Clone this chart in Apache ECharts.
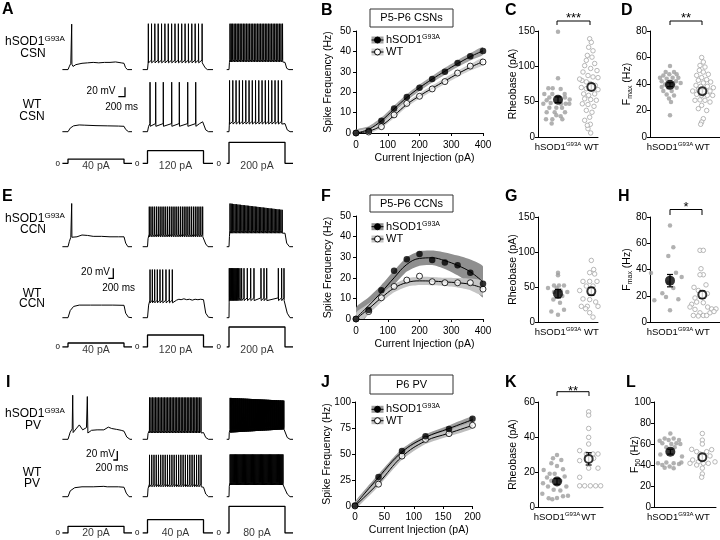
<!DOCTYPE html>
<html><head><meta charset="utf-8">
<script src="https://cdn.jsdelivr.net/npm/echarts@6/dist/echarts.min.js"></script>
<style>html,body{margin:0;padding:0;background:#fff}#c{width:720px;height:540px}</style>
</head><body><div id="c"></div>
<script>
const FONT = "'Liberation Sans', Arial, Helvetica, sans-serif";

// ---------- F-I curve data ----------
const fiX_CSN = [0,40,80,120,160,200,240,280,320,360,400];
const csnHsodPts = [0,1.1,6,12,17.7,22.2,26.5,30,34.3,37.6,40.2];
const csnWtPts   = [0,0.5,3.1,8.9,14.5,18,21.6,25.2,29.4,32.8,34.8];
const csnHsodFit = [0,1.8,6,11.8,17.4,22.2,26.4,30.3,34,37.4,40.3];
const csnWtFit   = [0,0.9,3.6,8.6,14,18.2,21.9,25.5,29,32.2,35];
const csnHsodLo  = [-1.2,0.3,4.4,10.2,15.8,20.6,24.8,28.6,32.3,35.6,38.4];
const csnHsodHi  = [1.6,3.3,7.6,13.4,19,23.8,28,32,35.7,39.2,42.2];
const csnWtLo    = [-1,-0.4,2.4,7.3,12.7,16.9,20.5,24,27.5,30.6,33.2];
const csnWtHi    = [1,2.2,4.8,9.9,15.3,19.5,23.3,27,30.5,33.8,36.8];

const fiX_CCN = [0,40,80,120,160,200,240,280,320,360,400];
const ccnHsodPts = [0,4.4,14,23.4,29,31.6,28.7,27.4,26.1,22.4,17.1];
const ccnWtPts   = [0,3.6,10.3,15.8,18.9,20.8,18.1,17.6,17.6,17.6,14.5];
const ccnHsodFit = [0.5,6.5,13,20,26.5,29.4,29.7,28.3,26,22.9,18];
const ccnWtFit   = [0,5,10.3,15,17.7,18.5,18.4,18,17.6,16.8,15];
const ccnHsodLo  = [-4.5,2.5,9.5,16.5,23,25.9,26.2,24.3,21.2,16.9,10.5];
const ccnHsodHi  = [5.5,10.5,16.5,23.5,30,32.9,33.2,32.3,30.8,28.9,25.5];
const ccnWtLo    = [-3,2.5,8.3,13,15.7,16.5,16.4,16,15.3,14,11.5];
const ccnWtHi    = [3,7.5,12.3,17,19.7,20.5,20.4,20,19.9,19.6,18.5];

const fiX_PV = [0,40,80,120,160,200];
const pvHsodPts = [0.6,28,53,67,74,84];
const pvWtPts   = [0,21,48,64,69.6,77.6];
const pvHsodFit = [1,27.5,52,66,74.5,83];
const pvWtFit   = [0,22,47.5,62.5,70,77.5];
const pvHsodLo  = [-2,24.5,49,63,71.5,80];
const pvHsodHi  = [4,30.5,55,69,77.5,86];
const pvWtLo    = [-3,19,44.5,59.5,67,74.5];
const pvWtHi    = [3,25,50.5,65.5,73,80.5];

// ---------- dot plot data (values, jitter in category units) ----------
const cHsodVals = [149,83,69,69,68,61,61,61,56,56,52,53,47,48,47,47,47,41.5,41.5,41.5,35,35,35,30.7,29.5,25,25,25,19];
const cHsodJit  = [0,0,-0.29,-0.16,0.08,-0.41,-0.17,0.2,-0.26,0.21,-0.34,0.35,-0.44,-0.22,0.09,0.23,0.34,-0.26,-0.05,0.12,-0.34,-0.1,0.21,-0.05,0.08,-0.36,-0.17,0.13,-0.19];
const cWtVals = [139,134,127,122,115.5,113,108.5,104,101,97,94,92,87,85,84,80,78,75.5,73,73,70,68.4,67,71,61,59,61,60,54,53,52,47,46,43.4,37.7,35,28,23.6,18,11.8,5.7,16.5,90,65,82,50];
const cWtJit  = [-0.05,0,-0.08,0.05,-0.12,0.02,-0.15,0.1,-0.2,-0.02,0.17,-0.25,-0.1,0.05,0.2,-0.28,-0.15,-0.03,0.12,0.3,-0.3,-0.15,0.2,0.35,-0.23,-0.08,0.1,0.25,-0.2,-0.02,0.15,-0.27,-0.1,0.08,-0.15,0.02,-0.05,-0.2,-0.03,-0.1,-0.02,-0.12,0.3,0.35,-0.35,0.3];
const cMeans = [52.8, 70.8], cSem = [4, 4.5];

const dHsodVals = [53.6,49,49,46.5,47.3,47.3,44.8,44,44.8,44.8,42,41.5,42,39.7,39.7,37.2,37.2,34.7,34.7,32,31.4,29,26.4,16.4,37.7,40.7];
const dHsodJit  = [0,-0.13,0.12,-0.2,-0.02,0.2,-0.3,-0.1,0.08,0.25,-0.25,0,0.18,-0.15,0.1,-0.05,0.2,-0.2,0.05,-0.1,0.12,-0.03,0.03,0,-0.25,0.32];
const dWtVals = [60,56.6,54,52.8,50.3,49,47.3,46.5,44.8,43.3,42.8,41.5,40.8,39,38.2,38.2,37.2,35.7,35.7,34.7,34.7,32.2,31.4,31.4,31.4,28,27.7,27.7,26.4,23.9,21.4,13.8,11.3,9.6,20];
const dWtJit  = [-0.02,0.03,-0.07,0.08,-0.09,0.03,0.18,-0.17,-0.02,0.13,-0.12,0.25,0.03,-0.19,-0.05,0.15,0.33,-0.12,0.08,0.23,-0.29,-0.17,-0.02,0.15,0.31,-0.07,0.08,-0.22,0.23,-0.02,-0.12,0.03,-0.02,-0.05,0.13];
const dMeans = [39.5, 34.5], dSem = [1.5, 1.8];

const gHsodVals = [70.5,66.7,52,52,52,48.6,48.6,43,45,43,37,32,27.6,17.6,15,10.5];
const gHsodJit  = [0,0,-0.12,0.03,0.18,-0.3,-0.04,0.28,0.08,-0.12,0.13,-0.14,0.06,0.18,-0.2,0];
const gWtVals = [88,75,70.5,68.6,58,58,58,51.4,51.4,45,39,33,32,28.6,22.4,22.4,22.4,13.3,7,19];
const gWtJit  = [0,0.07,-0.05,0.1,-0.25,-0.05,0.17,-0.15,0.05,-0.35,0.3,-0.25,-0.05,0.13,-0.3,-0.12,0.2,-0.05,0.05,-0.17];
const gMeans = [40.5, 43.8], gSem = [6, 5.5];

const hHsodVals = [73.6,57,50.3,37.3,37.6,34.3,30,25.9,17.3,16.5,19,8.9,22];
const hHsodJit  = [0,0.1,-0.05,-0.57,0.18,0.35,-0.05,0.1,0.25,-0.47,-0.12,0,-0.23];
const hWtVals = [54.6,54.6,40.6,36,36,26.4,24,28.3,21.6,18.3,15.2,13.5,11.4,9.6,7,5,5,7,10,10,8,5,4.6,11.4,14.7];
const hWtJit  = [-0.07,0.03,-0.04,0.03,-0.07,-0.25,-0.12,0.11,0.15,-0.22,-0.17,-0.32,-0.37,-0.22,-0.07,0.03,0.13,0.23,0.28,0.41,0.35,-0.27,-0.12,0.16,0.03];
const hMeans = [31.5, 20.8], hSem = [4.7, 2.8];

const kHsodVals = [29.7,27.8,26.9,25,21.2,23.5,21.6,19,19,17.4,16.9,15,15,13.6,11.7,11.7,9.8,9.5,7.6,5.1,4.5,5,6.1,6.4];
const kHsodJit  = [0,-0.12,0.13,-0.17,-0.4,0,0.18,-0.22,-0.07,0.23,-0.3,-0.17,0.1,-0.42,-0.27,0.28,-0.1,0.1,-0.44,0,-0.14,-0.25,0.18,0.33];
const kWtVals = [54.4,52.5,44.9,39.8,36,32.2,30.3,30.3,30.3,26.5,22.2,22.2,17,12.1,12.1,12.1,12.1,12.1,27.8];
const kWtJit  = [0,0,0,0,0,-0.27,-0.07,0.13,0.28,-0.27,0.28,0,-0.27,-0.27,-0.12,0.05,0.21,0.36,0.15];
const kMeans = [14.6, 27.5], kSem = [1.6, 3.5];

const lHsodVals = [70,65.3,65.3,63,63.7,63.7,60.6,60.6,60,60,56.8,56.8,41.6,40,42.3,41.6,41,42.3,38.5,37,37.5,50,48];
const lHsodJit  = [0,-0.17,0.1,-0.32,-0.05,0.26,-0.24,0.18,0.03,0.3,-0.12,0.13,-0.37,-0.24,-0.12,0.1,0.26,0.33,-0.02,0.1,-0.17,-0.3,0.35];
const lWtVals = [70,63.7,60,54.9,52.7,52.7,54.6,50.5,48.6,44.8,43,41.6,41.6,43,41.6,40,37,31.5,28.4];
const lWtJit  = [0,0,0,-0.32,-0.17,0.13,0.28,-0.07,0.23,-0.29,-0.12,0.03,0.18,0.38,-0.37,-0.17,0,0,-0.02];
const lMeans = [52.7, 47.3], lSem = [2.3, 2.8];

// ---------- example traces (time ms, membrane potential mV) ----------
const stepsCSN = [40,120,200];
const stepsCCN = [40,120,200];
const stepsPV  = [20,40,80];
const traceStart = [-100,-86,-41];
const traceEnd = [1143,1170,1143];

const A_h1 = {pts:[[-100,-68],[0,-68],[20,-62],[50,-54],[62,-50],[66,33],[70,-56],[90,-61],[140,-57],[250,-54],[350,-53],[450,-52],[550,-53],[650,-52],[750,-52],[850,-51],[950,-53],[1000,-54],[1025,-63],[1060,-68],[1143,-68]]};
const A_h2 = {pre:[[-86,-68],[0,-68],[10,-55]], spikes:[15,72,131,191,251,311,371,431,491,551,611,671,731,791,851,911,975], trough:-53, peak:34, post:[[990,-50],[1000,-52],[1030,-64],[1070,-68],[1170,-68]]};
const A_h3 = {pre:[[-41,-68],[0,-68],[8,-52]], spikes:[18,40,65,92,119,146,173,200,228,256,284,312,340,368,396,424,452,480,508,536,564,592,620,648,676,704,732,760,788,816,844,872,900,928,956], trough:-51, peak:34, post:[[975,-50],[1000,-52],[1030,-65],[1070,-68],[1143,-68]]};
const A_w1 = {pts:[[-100,-68],[0,-68],[40,-60],[100,-55],[200,-53],[300,-53.5],[500,-54.5],[700,-55],[900,-55.5],[1000,-56],[1030,-63],[1080,-68],[1143,-68]]};
const A_w2 = {pre:[[-86,-68],[0,-68],[20,-56]], spikes:[45,146,282,432,568,718,861], trough:-56, peak:42, post:[[930,-50],[985,-46],[1000,-50],[1040,-64],[1090,-68],[1170,-68]]};
const A_w3 = {pre:[[-41,-68],[0,-68],[5,-55]], spikes:[10,68,126,184,242,300,358,416,474,532,590,648,706,764,822,880,940], trough:-51, peak:46, post:[[970,-48],[1000,-50],[1040,-64],[1090,-68],[1143,-68]]};

const E_h1 = {pts:[[-100,-68],[0,-68],[25,-56],[50,-47],[62,-44],[66,28],[70,-47],[100,-50],[160,-46],[250,-42],[350,-43],[450,-45],[600,-45],[750,-46],[900,-46],[1000,-46],[1030,-60],[1070,-68],[1143,-68]]};
const E_h2 = {pre:[[-86,-68],[0,-68],[10,-50]], spikes:[32,62,94,127,160,193,226,259,292,325,358,391,424,457,490,523,556,589,622,655,688,721,754,787,820,853,886,919,952,985], trough:-46, peak:21, post:[[995,-42],[1005,-46],[1040,-62],[1080,-68],[1170,-68]]};
const E_h3 = {pre:[[-41,-68],[0,-68],[8,-45]], spikes:[18,40,63,86,110,134,158,182,206,230,254,278,302,326,350,374,398,422,446,470,494,518,542,566,590,614,638,662,686,710,734,758,782,806,830,854,878,902,926,950], trough:-38, peak:[28,14], post:[[965,-36],[1000,-38],[1030,-60],[1080,-68],[1143,-68]]};
const E_w1 = {pts:[[-100,-68],[0,-68],[40,-52],[100,-43],[200,-40],[400,-40],[600,-40],[800,-40],[1000,-40.5],[1030,-58],[1080,-67],[1143,-68]]};
const E_w2 = {pre:[[-86,-68],[0,-68],[20,-40]], spikes:[45,86,128,175,223,271,330,389,443], trough:-35, peak:39, post:[[470,-32],[520,-29],[560,-27],[600,-28],[650,-26],[700,-28],[750,-27],[800,-29],[850,-27],[900,-28],[950,-27],[1000,-28],[1040,-58],[1090,-67],[1170,-68]]};
const E_w3 = {pre:[[-41,-68],[0,-68],[3,-35]], spikes:[5,18,32,46,61,77,94,112,131,151,172,196,226,268,327,387,446,571,625,673,881,940,982], trough:-30, peak:42, post:[[995,-28],[1010,-30],[1040,-58],[1090,-68],[1143,-68]]};

const I_h1 = {pts:[[-100,-68],[0,-68],[6,-66],[40,-52],[75,-45],[84,30],[92,-53],[143,-45],[202,-36],[262,-47],[330,-42],[345,27],[355,-54],[420,-48],[520,-47],[640,-47],[720,-41],[780,-44],[869,-46],[950,-48],[1000,-50],[1050,-63],[1107,-68],[1143,-68]]};
const I_h2 = {pre:[[-86,-68],[0,-68],[10,-55]], spikes:[36,62,89,116,143,170,197,224,251,278,305,332,359,386,413,440,467,494,521,548,575,602,629,656,683,710,737,764,791,818,845,872,899,926,955], trough:-54, peak:25, post:[[980,-50],[1000,-53],[1040,-64],[1090,-68],[1170,-68]]};
const I_h3 = {pre:[[-41,-68],[0,-68],[5,-53]], spikes:[20,32,44,56,68,80,92,104,116,128,140,152,164,176,188,200,212,224,236,248,260,272,284,296,308,320,332,344,356,368,380,392,404,416,428,440,452,464,476,488,500,512,524,536,548,560,572,584,596,608,620,632,644,656,668,680,692,704,716,728,740,752,764,776,788,800,812,824,836,848,860,872,884,896,908,920,932,944,956,968,980], trough:[-53,-46], peak:[24,18], post:[[990,-46],[1000,-48],[1040,-64],[1090,-68],[1143,-68]]};
const I_w1 = {pts:[[-100,-68],[0,-68],[40,-55],[120,-48],[250,-46],[450,-46],[640,-45],[660,-43],[700,-46],[900,-46],[1000,-47],[1040,-60],[1090,-68],[1143,-68]]};
const I_w2 = {pre:[[-86,-68],[0,-68],[10,-50]], spikes:[36,76,116,156,196,236,276,316,356,396,436,476,516,556,596,636,676,716,756,796,836,876,916,956], trough:-46, peak:25, post:[[975,-44],[1000,-47],[1040,-62],[1090,-68],[1170,-68]]};
const I_w3 = {pre:[[-41,-68],[0,-68],[5,-45]], spikes:[20,36,52,68,84,100,116,132,148,164,180,196,212,228,244,260,276,292,308,324,340,356,372,388,404,420,436,452,468,484,500,516,532,548,564,580,596,612,628,644,660,676,692,708,724,740,756,772,788,804,820,836,852,868,884,900,916,932,948,964], trough:-42, peak:26, post:[[985,-42],[1000,-45],[1040,-62],[1090,-68],[1143,-68]]};

// ---------- builders ----------
const grids = [], xAxes = [], yAxes = [], series = [], graphics = [];
function addGrid(g, xa, ya) {
  grids.push(Object.assign({containLabel:false}, g));
  const i = grids.length - 1;
  xAxes.push(Object.assign({gridIndex:i}, xa));
  yAxes.push(Object.assign({gridIndex:i}, ya));
  return i;
}
function trainPts(times, trough, peak) {
  const n = times.length, out = [];
  const lv = (v, i) => Array.isArray(v) ? v[0] + (v[1]-v[0]) * (n > 1 ? i/(n-1) : 0) : v;
  times.forEach((t, i) => {
    const tr = lv(trough, i), pk = lv(peak, i);
    out.push([t-2, tr+6], [t, pk], [t+3, tr]);
  });
  return out;
}
function tracePts(tr) { return tr.pts ? tr.pts : tr.pre.concat(trainPts(tr.spikes, tr.trough, tr.peak), tr.post); }

const colOnset = [68, 147.5, 229];
const PXMS = 0.056, TMIN = -110, TMAX = 1200, PXMV = 0.45, VMIN = -80, VMAX = 50;
function tracePanel(vTops, rows, steps, curBase, curMax, curPx, labelDy) {
  for (let c = 0; c < 3; c++) {
    const left = colOnset[c] + TMIN * PXMS, width = (TMAX - TMIN) * PXMS;
    rows.forEach((row, r) => {
      const gi = addGrid({left, top:vTops[r], width, height:(VMAX-VMIN)*PXMV},
        {type:'value', min:TMIN, max:TMAX, show:false},
        {type:'value', min:VMIN, max:VMAX, show:false});
      series.push({type:'line', xAxisIndex:gi, yAxisIndex:gi, data:tracePts(row[c]), symbol:'none', silent:true,
        lineStyle:{color:'#000', width:1}, animation:false});
    });
    const h = curMax * curPx;
    const gi = addGrid({left, top:curBase - h, width, height:h},
      {type:'value', min:TMIN, max:TMAX, show:false},
      {type:'value', min:0, max:curMax, show:true, axisLine:{show:false}, axisTick:{show:false}, splitLine:{show:false},
       axisLabel:{customValues:[0], fontSize:8, margin:2, color:'#000', fontFamily:FONT}});
    const I = steps[c];
    series.push({type:'line', xAxisIndex:gi, yAxisIndex:gi, symbol:'none', silent:true, animation:false,
      data:[[traceStart[c],0],[0,0],[0,I],[1000,I],[1000,0],[traceEnd[c],0]],
      lineStyle:{color:'#000', width:1.3}});
    series.push({type:'scatter', xAxisIndex:gi, yAxisIndex:gi, data:[[500,0]], symbolSize:0, silent:true, animation:false,
      label:{show:true, position:'inside', offset:[0,labelDy], formatter:I + ' pA', fontSize:10.5, color:'#000', fontFamily:FONT}});
  }
}
tracePanel([16.5, 78.6], [[A_h1,A_h2,A_h3],[A_w1,A_w2,A_w3]], stepsCSN, 163.3, 300, 0.105, 2.5);
tracePanel([193.6, 264.6], [[E_h1,E_h2,E_h3],[E_w1,E_w2,E_w3]], stepsCCN, 347, 300, 0.1, 3);
tracePanel([386.2, 443.6], [[I_h1,I_h2,I_h3],[I_w1,I_w2,I_w3]], stepsPV, 533, 90, 0.333, 0.5);

const AX = {lineStyle:{color:'#000', width:1}};
function fiPlot(box, xs, xmax, xint, ymax, yint, xOff, yOff, nameGapY, d) {
  const gi = addGrid(box,
    {type:'value', min:0, max:xmax, interval:xint, offset:xOff, axisLine:AX, axisTick:{length:3, lineStyle:{color:'#000'}},
     axisLabel:{fontSize:10, margin:3, color:'#000', fontFamily:FONT}, splitLine:{show:false},
     name:'Current Injection (pA)', nameLocation:'middle', nameGap:16, nameMoveOverlap:false,
     nameTextStyle:{fontSize:10.5, color:'#000', fontFamily:FONT, padding:[0,0,0,10]}},
    {type:'value', min:0, max:ymax, interval:yint, offset:yOff, axisLine:AX, axisTick:{length:3, lineStyle:{color:'#000'}},
     axisLabel:{fontSize:10, margin:3, color:'#000', fontFamily:FONT}, splitLine:{show:false},
     name:'Spike Frequency (Hz)', nameLocation:'middle', nameGap:nameGapY, nameMoveOverlap:false,
     nameTextStyle:{fontSize:10.5, color:'#000', fontFamily:FONT}});
  const band = (lo, hi, color) => {
    series.push({type:'custom', xAxisIndex:gi, yAxisIndex:gi, silent:true, animation:false, clip:true, z:1,
      encode:{x:0, y:1}, data:xs.map((x,i)=>[x, lo[i], hi[i]]),
      renderItem:(p, api) => {
        if (p.dataIndex !== 0) return null;
        const top = xs.map((x,i)=>api.coord([x, hi[i]]));
        const bot = xs.map((x,i)=>api.coord([x, lo[i]])).reverse();
        return {type:'polygon', shape:{points:top.concat(bot), smooth:0.2}, style:{fill:color}};
      }});
  };
  band(d.hLo, d.hHi, d.hBand);
  band(d.wLo, d.wHi, d.wBand);
  [d.hFit, d.wFit].forEach(f => series.push({type:'line', xAxisIndex:gi, yAxisIndex:gi, smooth:0.4, symbol:'none', silent:true, animation:false, z:3,
    data:xs.map((x,i)=>[x, f[i]]), lineStyle:{color:'#000', width:1}}));
  series.push({type:'scatter', xAxisIndex:gi, yAxisIndex:gi, data:xs.map((x,i)=>[x, d.wPts[i]]), symbolSize:6, silent:true, animation:false, z:5, clip:false,
    itemStyle:{color:'#fff', borderColor:'#000', borderWidth:1}});
  series.push({type:'scatter', xAxisIndex:gi, yAxisIndex:gi, data:xs.map((x,i)=>[x, d.hPts[i]]), symbolSize:6.5, silent:true, animation:false, z:6, clip:false,
    itemStyle:{color:'#000'}});
}
fiPlot({left:356, top:31, width:127, height:102}, fiX_CSN, 400, 100, 50, 10, 4, 2, 20,
  {hLo:csnHsodLo, hHi:csnHsodHi, wLo:csnWtLo, wHi:csnWtHi, hFit:csnHsodFit, wFit:csnWtFit, hPts:csnHsodPts, wPts:csnWtPts, hBand:'#a3a3a3', wBand:'#cfcfcf'});
fiPlot({left:356, top:216, width:127, height:103}, fiX_CCN, 400, 100, 50, 10, 4, 2, 20,
  {hLo:ccnHsodLo, hHi:ccnHsodHi, wLo:ccnWtLo, wHi:ccnWtHi, hFit:ccnHsodFit, wFit:ccnWtFit, hPts:ccnHsodPts, wPts:ccnWtPts, hBand:'#8f8f8f', wBand:'#c4c4c4'});
fiPlot({left:355, top:402, width:117.5, height:104}, fiX_PV, 200, 50, 100, 25, 3, 1, 21,
  {hLo:pvHsodLo, hHi:pvHsodHi, wLo:pvWtLo, wHi:pvWtHi, hFit:pvHsodFit, wFit:pvWtFit, hPts:pvHsodPts, wPts:pvWtPts, hBand:'#9d9d9d', wBand:'#bdbdbd'});

const RICH = {
  b:{fontSize:9.5, fontFamily:FONT, color:'#000', lineHeight:12},
  s:{fontSize:6, fontFamily:FONT, color:'#000', verticalAlign:'top', lineHeight:7},
  sub:{fontSize:7, fontFamily:FONT, color:'#000', verticalAlign:'bottom', lineHeight:9}
};
function dotPlot(box, centers, ymax, yint, name, nameGap, hv, hj, wv, wj, means, sems) {
  const mid = (centers[0] + centers[1]) / 2;
  const gi = addGrid(box,
    {type:'value', min:0, max:box.width/33.33, axisLine:AX, axisTick:{show:false}, splitLine:{show:false},
     axisLabel:{customValues:centers, margin:4, hideOverlap:false, showMinLabel:true, showMaxLabel:true,
       formatter:(v) => (Number(v) < mid ? '{b|hSOD1}{s|G93A}' : '{b|WT}'), rich:RICH}},
    {type:'value', min:0, max:ymax, interval:yint, axisLine:AX, axisTick:{length:3, lineStyle:{color:'#000'}},
     axisLabel:{fontSize:10, margin:3, color:'#000', fontFamily:FONT}, splitLine:{show:false},
     name, nameLocation:'middle', nameGap, nameMoveOverlap:false,
     nameTextStyle:{fontSize:10.5, color:'#000', fontFamily:FONT, rich:{sub:RICH.sub, n:{fontSize:10.5, fontFamily:FONT, color:'#000', lineHeight:13}}}});
  series.push({type:'scatter', xAxisIndex:gi, yAxisIndex:gi, data:hv.map((v,i)=>[centers[0]+hj[i], v]), symbolSize:4.5, silent:true, animation:false,
    itemStyle:{color:'#9e9e9e'}});
  series.push({type:'scatter', xAxisIndex:gi, yAxisIndex:gi, data:wv.map((v,i)=>[centers[1]+wj[i], v]), symbolSize:4.5, silent:true, animation:false,
    itemStyle:{color:'#fff', borderColor:'#a6a6a6', borderWidth:1}});
  series.push({type:'custom', xAxisIndex:gi, yAxisIndex:gi, silent:true, animation:false, z:3, encode:{x:0, y:1},
    data:means.map((m,i)=>[centers[i], m, sems[i]]),
    renderItem:(p, api) => {
      const x = api.value(0), m = api.value(1), s = api.value(2);
      const a = api.coord([x, m - s]), b = api.coord([x, m + s]);
      const st = {stroke:'#000', lineWidth:1.2};
      return {type:'group', children:[
        {type:'line', shape:{x1:a[0], y1:a[1], x2:b[0], y2:b[1]}, style:st},
        {type:'line', shape:{x1:a[0]-3, y1:a[1], x2:a[0]+3, y2:a[1]}, style:st},
        {type:'line', shape:{x1:b[0]-3, y1:b[1], x2:b[0]+3, y2:b[1]}, style:st}]};
    }});
  series.push({type:'scatter', xAxisIndex:gi, yAxisIndex:gi, z:4, data:[[centers[0], means[0]]], symbolSize:10, silent:true, animation:false,
    itemStyle:{color:'#000'}});
  series.push({type:'scatter', xAxisIndex:gi, yAxisIndex:gi, z:4, data:[[centers[1], means[1]]], symbolSize:8, silent:true, animation:false,
    itemStyle:{color:'#fff', borderColor:'#000', borderWidth:2}});
}
dotPlot({left:538, top:31, width:60, height:106}, [0.6,1.6], 150, 50, 'Rheobase (pA)', 19, cHsodVals, cHsodJit, cWtVals, cWtJit, cMeans, cSem);
dotPlot({left:650, top:31, width:70, height:106}, [0.6,1.57], 80, 20, '{n|F}{sub|max}{n| (Hz)}', 16, dHsodVals, dHsodJit, dWtVals, dWtJit, dMeans, dSem);
dotPlot({left:538, top:217, width:60, height:105}, [0.6,1.6], 150, 50, 'Rheobase (pA)', 19, gHsodVals, gHsodJit, gWtVals, gWtJit, gMeans, gSem);
dotPlot({left:650, top:217, width:70, height:105}, [0.6,1.57], 80, 20, '{n|F}{sub|max}{n| (Hz)}', 16, hHsodVals, hHsodJit, hWtVals, hWtJit, hMeans, hSem);
dotPlot({left:538, top:402, width:65, height:105}, [0.57,1.52], 60, 20, 'Rheobase (pA)', 19, kHsodVals, kHsodJit, kWtVals, kWtJit, kMeans, kSem);
dotPlot({left:654, top:402, width:62, height:105}, [0.49,1.45], 100, 20, '{n|F}{sub|50}{n| (Hz)}', 12, lHsodVals, lHsodJit, lWtVals, lWtJit, lMeans, lSem);

// ---------- annotations ----------
const TXT = (x, y, text, size, opts) => graphics.push({type:'text', x, y, silent:true, z:100,
  style:Object.assign({text, fontSize:size, fontFamily:FONT, fill:'#000', align:'center', verticalAlign:'middle'}, opts||{})});
const LINE = (pts, w) => graphics.push({type:'polyline', silent:true, z:100, shape:{points:pts}, style:{stroke:'#000', lineWidth:w||1, fill:null}});
[['A',2,2],['B',321,3],['C',505,3],['D',621,3],['E',2,189],['F',321,189],['G',505,189],['H',618,189],['I',6,375],['J',321,375],['K',505,375],['L',626,375]]
  .forEach(([t,x,y]) => TXT(x, y, t, 16, {fontWeight:'bold', align:'left', verticalAlign:'top'}));
const TR_RICH = {b:{fontSize:12, fontFamily:FONT, fill:'#000', lineHeight:14}, s:{fontSize:8, fontFamily:FONT, fill:'#000', verticalAlign:'top', lineHeight:9}};
[[42,'CSN',53.5,105,116.7],[218.3,'CCN',229.5,293.3,304],[413.3,'PV',426,472.7,484]].forEach(([y1,t,y2,y3,y4]) => {
  TXT(35, y1, '{b|hSOD1}{s|G93A}', 12, {rich:TR_RICH});
  TXT(33, y2, t, 12);
  TXT(32, y3, 'WT', 12);
  TXT(32, y4, t, 12);
});
[[[118.3,96.7],[125,96.7],[125,87.3], 115.5, 91, 138, 107],
 [[108.3,278.3],[113.3,278.3],[113.3,268.3], 110, 272, 135, 288.3],
 [[113.3,460],[117.3,460],[117.3,451], 115, 454.5, 128.3, 468]].forEach(([p1,p2,p3,tx,ty,sx,sy]) => {
  LINE([p1,p2,p3], 1.3);
  TXT(tx, ty, '20 mV', 10, {align:'right'});
  TXT(sx, sy, '200 ms', 10, {align:'right'});
});
const LG_RICH = {b:{fontSize:11, fontFamily:FONT, fill:'#000', lineHeight:13}, s:{fontSize:7, fontFamily:FONT, fill:'#000', verticalAlign:'top', lineHeight:8}};
[['P5-P6 CSNs', 9, 18, 40, 52, '#a3a3a3', '#cfcfcf'],
 ['P5-P6 CCNs', 195, 17, 226.7, 239, '#8f8f8f', '#c4c4c4'],
 ['P6 PV', 375, 19, 409.3, 420.7, '#9d9d9d', '#bdbdbd']].forEach(([t, y, h, l1, l2, c1, c2]) => {
  graphics.push({type:'rect', silent:true, z:100, shape:{x:370, y, width:83, height:h}, style:{fill:'#fff', stroke:'#333', lineWidth:1}});
  TXT(411.5, y + h/2, t, 11);
  [[l1, c1, '#000', '{b|hSOD1}{s|G93A}'], [l2, c2, '#fff', 'WT']].forEach(([ly, bc, fc, lab]) => {
    graphics.push({type:'rect', silent:true, z:100, shape:{x:371.5, y:ly-3.5, width:12, height:7}, style:{fill:bc}});
    LINE([[371.5, ly], [383.5, ly]], 1);
    graphics.push({type:'circle', silent:true, z:101, shape:{cx:377.5, cy:ly, r:3}, style:{fill:fc, stroke:'#000', lineWidth:1}});
    TXT(386, ly, lab, 11, {align:'left', rich:LG_RICH});
  });
});
[[557,590,21,25,15,'***'],[670,702,21,25,15,'**'],[670,702,209.5,215,204,'*'],[557,589,391.7,396,388,'**']].forEach(([x1,x2,yt,yb,ys,s]) => {
  LINE([[x1,yb],[x1,yt],[x2,yt],[x2,yb]], 1);
  TXT((x1+x2)/2, ys + 3, s, 13);
});

const chart = echarts.init(document.getElementById('c'), null, {renderer:'canvas'});
chart.setOption({
  animation:false, backgroundColor:'#fff',
  grid:grids, xAxis:xAxes, yAxis:yAxes, series, graphic:graphics
});
</script></body></html>
